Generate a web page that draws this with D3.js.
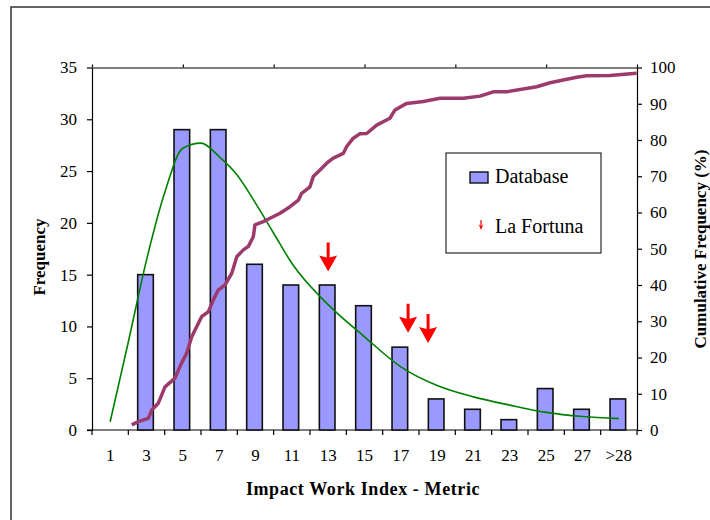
<!DOCTYPE html>
<html>
<head>
<meta charset="utf-8">
<script src="https://cdn.jsdelivr.net/npm/d3@7"></script>
<style>
  body { margin: 0; background: #fff; }
  svg text { font-family: "Liberation Serif", "Times New Roman", serif; fill: #000; }
  .axis path, .axis line { stroke: #000; stroke-width: 1.2; }
</style>
</head>
<body>
<svg id="chart" width="710" height="520"></svg>
<script>
// histogram bins
const categories = ["1", "3", "5", "7", "9", "11", "13", "15", "17", "19", "21", "23", "25", "27", ">28"];
const frequency = [0, 15, 29, 29, 16, 14, 14, 12, 8, 3, 2, 1, 4, 2, 3];

// fitted distribution (green), x in index units
const fitX = [1, 2, 3, 4, 5, 6, 7, 8, 9, 10, 11, 13, 15, 17, 19, 21, 23, 25, 27, 29];
const fitY = [0.8, 8.5, 16.4, 22.9, 27.2, 27.7, 26.4, 24.6, 21.9, 19.0, 16.1, 12.1, 9.0, 6.1, 4.3, 3.2, 2.4, 1.7, 1.3, 1.1];

// cumulative frequency (%)
const cumX = [2.19, 2.55, 3.10, 3.29, 3.65, 4.02, 4.57, 4.84, 5.21, 5.49, 5.85, 6.04, 6.40, 6.68, 6.95, 7.32, 7.69, 7.97,
  8.33, 8.60, 8.88, 8.97, 9.43, 9.80, 10.35, 10.90, 11.36, 11.54, 12.00, 12.18, 12.55, 12.92, 13.28, 13.83, 14.02,
  14.38, 14.75, 15.12, 15.67, 16.40, 16.68, 17.32, 18.24, 19.16, 20.44, 21.36, 22.09, 22.83, 24.48, 25.21, 26.68,
  27.23, 28.51, 29.98];
const cumY = [1.4, 2.3, 3.2, 5.5, 7.4, 11.9, 14.3, 17.5, 21.2, 25.7, 29.4, 31.3, 32.6, 35.9, 38.6, 40.0, 43.2, 47.8,
  49.7, 50.6, 53.3, 56.6, 57.5, 58.4, 59.8, 61.6, 63.4, 65.3, 67.1, 69.9, 71.7, 73.6, 75.0, 76.3, 78.2,
  80.5, 81.7, 81.8, 84.1, 86.0, 88.3, 90.1, 90.6, 91.5, 91.5, 92.1, 93.3, 93.3, 94.7, 95.8, 97.3,
  97.7, 97.8, 98.4];

// La Fortuna markers
const fortunaX = [13, 17.4, 18.5];
const fortunaY = [15.3, 9.4, 8.4];

const freqTicks = [0, 5, 10, 15, 20, 25, 30, 35];
const cumTicks = [0, 10, 20, 30, 40, 50, 60, 70, 80, 90, 100];

const MARGIN = { top: 67.5, right: 73, bottom: 90, left: 92 };
const svg = d3.select("#chart");
const width = 710 - MARGIN.left - MARGIN.right,
  height = 520 - MARGIN.top - MARGIN.bottom;

// outer frame
svg.append("rect")
  .attr("x", 11).attr("y", 7)
  .attr("width", 720).attr("height", 540)
  .attr("fill", "none").attr("stroke", "#333").attr("stroke-width", 1.5);

const g = svg.append("g")
  .attr("transform", "translate(" + MARGIN.left + "," + MARGIN.top + ")");

const x = d3.scaleBand().domain(categories).range([0, width]).paddingInner(0.57).paddingOuter(0.285);
const xVal = d3.scaleLinear().domain([0, 30]).range([0, width]);
const y = d3.scaleLinear().domain([0, 35]).range([height, 0]);
const yCum = d3.scaleLinear().domain([0, 100]).range([height, 0]);

// left axis
g.append("g")
  .attr("class", "axis")
  .call(d3.axisLeft(y).tickValues(freqTicks).tickSize(5).tickPadding(10).tickSizeOuter(0))
  .call(a => a.selectAll("text").style("font-size", "17px"));

// right axis
g.append("g")
  .attr("class", "axis")
  .attr("transform", "translate(" + width + ",0)")
  .call(d3.axisRight(yCum).tickValues(cumTicks).tickSize(5).tickPadding(8).tickSizeOuter(0))
  .call(a => a.selectAll("text").style("font-size", "17px"));

// top secondary axis (no labels)
g.append("g")
  .attr("class", "axis")
  .call(d3.axisTop(d3.scaleLinear().domain([0, 6]).range([0, width])).ticks(6).tickSize(3).tickSizeOuter(0).tickFormat(""));

// bottom axis: ticks at bin edges, labels at bin centres
const xAxis = g.append("g")
  .attr("class", "axis")
  .attr("transform", "translate(0," + height + ")");
xAxis.append("line")
  .attr("x1", -5).attr("x2", width);
xAxis.selectAll(".edge")
  .data(d3.range(categories.length + 1))
  .enter().append("line")
  .attr("class", "edge")
  .attr("x1", d => d * width / categories.length)
  .attr("x2", d => d * width / categories.length)
  .attr("y1", 0).attr("y2", 5);
xAxis.selectAll("text")
  .data(categories)
  .enter().append("text")
  .attr("x", d => x(d) + x.bandwidth() / 2)
  .attr("y", 31)
  .attr("text-anchor", "middle")
  .style("font-size", "17px")
  .text(d => d);

// bars
g.selectAll(".bar")
  .data(frequency)
  .enter().append("rect")
  .attr("class", "bar")
  .attr("x", (d, i) => x(categories[i]) - 1)
  .attr("y", d => y(d))
  .attr("width", x.bandwidth())
  .attr("height", d => height - y(d))
  .attr("fill", "#9999ff")
  .attr("stroke", "#111")
  .attr("stroke-width", 1.6);

// fitted curve
g.append("path")
  .datum(fitX.map((v, i) => [v, fitY[i]]))
  .attr("fill", "none")
  .attr("stroke", "#008000")
  .attr("stroke-width", 1.6)
  .attr("d", d3.line().x(d => xVal(d[0])).y(d => y(d[1])).curve(d3.curveMonotoneX));

// cumulative line
g.append("path")
  .datum(cumX.map((v, i) => [v, cumY[i]]))
  .attr("fill", "none")
  .attr("stroke", "#9c3a6c")
  .attr("stroke-width", 3.5)
  .attr("stroke-linejoin", "round")
  .attr("d", d3.line().x(d => xVal(d[0])).y(d => yCum(d[1])));

// red arrows
function arrow(sel, cx, tipY, len, headW, headH, shaftW) {
  sel.append("path")
    .attr("fill", "#ff0000")
    .attr("d", "M" + (cx - shaftW / 2) + "," + (tipY - len) +
      "L" + (cx + shaftW / 2) + "," + (tipY - len) +
      "L" + (cx + shaftW / 2) + "," + (tipY - headH) +
      "L" + (cx + headW / 2) + "," + (tipY - headH - 2) +
      "L" + cx + "," + tipY +
      "L" + (cx - headW / 2) + "," + (tipY - headH - 2) +
      "L" + (cx - shaftW / 2) + "," + (tipY - headH) + "Z");
}
fortunaX.forEach((v, i) => {
  arrow(g, xVal(v), y(fortunaY[i]), 29, 18, 14, 3);
});

// legend
const legend = svg.append("g").attr("transform", "translate(446,153)");
legend.append("rect")
  .attr("width", 155).attr("height", 100)
  .attr("fill", "#fff").attr("stroke", "#000").attr("stroke-width", 1);
legend.append("rect")
  .attr("x", 24).attr("y", 19).attr("width", 18).attr("height", 11)
  .attr("fill", "#9999ff").attr("stroke", "#111").attr("stroke-width", 1.4);
legend.append("text")
  .attr("x", 49).attr("y", 30)
  .style("font-size", "20px")
  .text("Database");
arrow(legend, 35, 77, 10, 5, 4, 1.2);
legend.append("text")
  .attr("x", 49).attr("y", 80)
  .style("font-size", "20px")
  .text("La Fortuna");

// axis titles
svg.append("text")
  .attr("transform", "translate(45,257) rotate(-90)")
  .attr("text-anchor", "middle")
  .style("font-size", "17px")
  .style("font-weight", "bold")
  .text("Frequency");
svg.append("text")
  .attr("transform", "translate(706,249) rotate(-90)")
  .attr("text-anchor", "middle")
  .style("font-size", "17px")
  .style("font-weight", "bold")
  .text("Cumulative Frequency (%)");
svg.append("text")
  .attr("x", 363).attr("y", 495)
  .attr("text-anchor", "middle")
  .style("font-size", "18px")
  .style("font-weight", "bold")
  .style("letter-spacing", "0.6px")
  .text("Impact Work Index - Metric");
</script>
</body>
</html>
